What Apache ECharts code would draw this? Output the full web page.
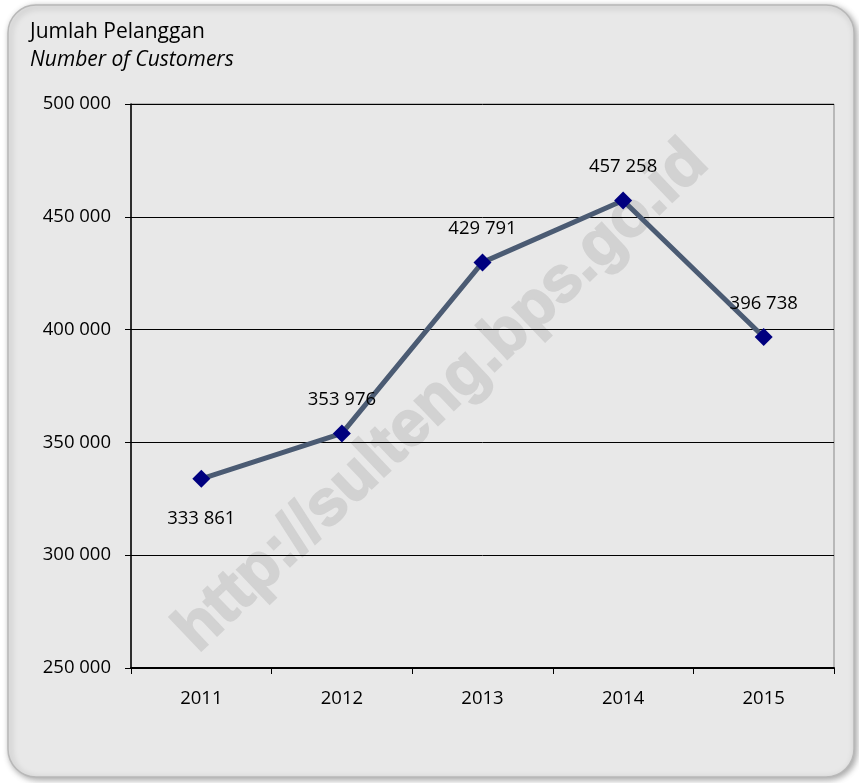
<!DOCTYPE html>
<html>
<head>
<meta charset="utf-8">
<script src="https://cdn.jsdelivr.net/npm/echarts@6/dist/echarts.min.js"></script>
<style>html,body{margin:0;padding:0;background:#fff;}#c{width:859px;height:783px;}</style>
</head>
<body>
<div id="c"></div>
<script>
var categories = ['2011', '2012', '2013', '2014', '2015'];
var customers = [333861, 353976, 429791, 457258, 396738];
var labelPositions = ['bottom', 'top', 'top', 'top', 'top'];
var yMin = 250000, yMax = 500000, yStep = 50000;

function fmt(v) {
  return String(v).replace(/\B(?=(\d{3})+(?!\d))/g, ' ');
}

var FONT = 'Open Sans';
var chart = echarts.init(document.getElementById('c'));
chart.setOption({
  animation: false,
  backgroundColor: '#ffffff',
  graphic: [
    {
      type: 'rect', z: -10,
      shape: { x: 8, y: 5, width: 846, height: 772, r: 28 },
      style: { fill: '#e8e8e8', stroke: '#b8b8b8', lineWidth: 1.5,
               shadowBlur: 6, shadowColor: 'rgba(0,0,0,0.35)', shadowOffsetX: 2, shadowOffsetY: 2 }
    },
    {
      type: 'text', z: -5, x: 442, y: 397, rotation: 0.761,
      style: { text: 'http://sulteng.bps.go.id', fill: '#d2d2d2', font: 'bold 64px "Liberation Sans"',
               textAlign: 'center', textVerticalAlign: 'middle',
               stroke: '#d2d2d2', lineWidth: 2 }
    },
    {
      type: 'text', left: 30, top: 22,
      style: { text: 'Jumlah Pelanggan', fill: '#000', font: '21px "' + FONT + '"' }
    },
    {
      type: 'text', left: 30, top: 50,
      style: { text: 'Number of Customers', fill: '#000', font: 'italic 21px "' + FONT + '"' }
    }
  ],
  grid: { left: 131, right: 25, top: 104, bottom: 115, show: true,
          borderColor: '#888', borderWidth: 1, backgroundColor: 'transparent' },
  xAxis: {
    type: 'category', data: categories, boundaryGap: true,
    axisLine: { lineStyle: { color: '#000', width: 2 } },
    axisTick: { show: true, length: 6, lineStyle: { color: '#000' } },
    axisLabel: { color: '#000', fontFamily: FONT, fontSize: 18.5, margin: 21 }
  },
  yAxis: {
    type: 'value', min: yMin, max: yMax, interval: yStep,
    axisLine: { show: true, lineStyle: { color: '#000', width: 1.5 } },
    axisTick: { show: true, length: 6, lineStyle: { color: '#000' } },
    splitLine: { show: true, lineStyle: { color: '#000', width: 1 } },
    axisLabel: { color: '#000', fontFamily: FONT, fontSize: 18.5, margin: 20, formatter: fmt }
  },
  series: [{
    type: 'line',
    data: customers.map(function (v, i) {
      return { value: v, label: { position: labelPositions[i], distance: labelPositions[i] === 'bottom' ? 21 : 15 } };
    }),
    lineStyle: { color: '#4b5b73', width: 5 },
    symbol: 'diamond', symbolSize: 18,
    itemStyle: { color: '#00007f' },
    label: { show: true, color: '#000', fontFamily: FONT, fontSize: 18.5,
             formatter: function (p) { return fmt(p.value); } }
  }]
});
</script>
</body>
</html>
